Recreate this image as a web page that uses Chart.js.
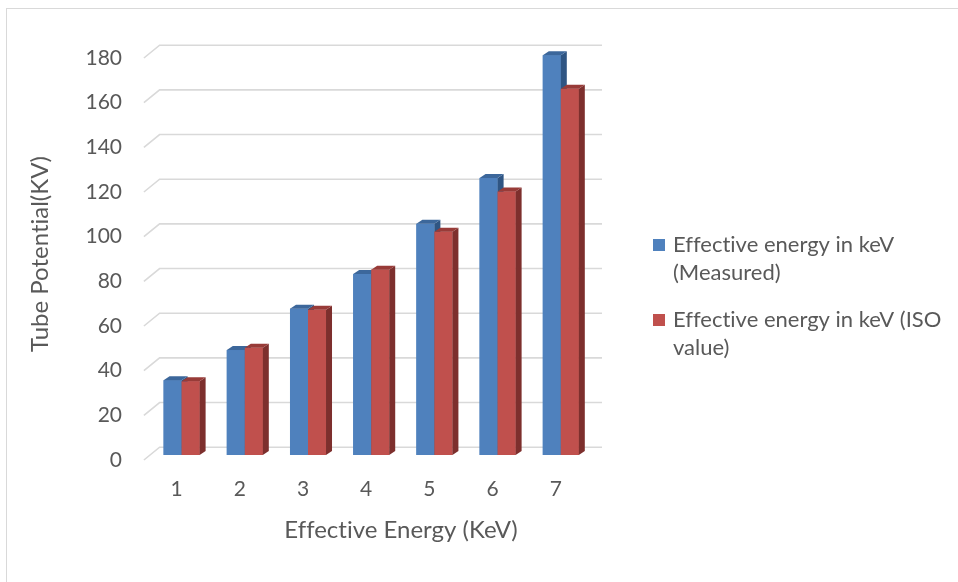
<!DOCTYPE html>
<html>
<head>
<meta charset="utf-8">
<script src="https://cdn.jsdelivr.net/npm/chart.js@4.4.1/dist/chart.umd.min.js"></script>
<style>
  html, body { margin: 0; padding: 0; background: #ffffff; }
  #wrap { position: relative; width: 958px; height: 582px; overflow: hidden; }
  #frame { position: absolute; left: 6px; top: 8px; width: 960px; height: 580px;
           border-top: 1.5px solid #D9D9D9; border-left: 1.5px solid #D9D9D9; }
  #c { position: absolute; left: 0; top: 0; }
</style>
</head>
<body>
<div id="wrap">
  <div id="frame"></div>
  <canvas id="c" width="958" height="582"></canvas>
</div>
<script>
// ---- data ----
const categories = ['1', '2', '3', '4', '5', '6', '7'];
const measuredValues = [33.5, 47, 65.5, 81, 103.5, 124, 179];
const isoValues = [33, 48, 65, 83, 100, 118, 164];
const seriesLabels = ['Effective energy in keV (Measured)', 'Effective energy in keV (ISO value)'];
const yTickValues = [0, 20, 40, 60, 80, 100, 120, 140, 160, 180];
const xAxisTitle = 'Effective Energy (KeV)';
const yAxisTitle = 'Tube Potential(KV)';

// ---- style ----
const FONT = 'Lato, "Open Sans", sans-serif';
const TEXT = '#595959';
const GRID = '#D9D9D9';
const BACK = { dx: 9.6, dy: -7.8 };
const FRONT = { dx: -6.1, dy: 5 };
const DEPTH = { dx: 6, dy: -4 };
const faces = [
  { front: '#4F81BD', top: '#3C679B', side: '#2F5583' },
  { front: '#C0504D', top: '#983B38', side: '#7D2F2D' }
];

function wrapText(ctx, text, maxW) {
  const words = text.split(' ');
  const lines = [];
  let cur = '';
  words.forEach(w => {
    const t = cur ? cur + ' ' + w : w;
    if (cur && ctx.measureText(t).width > maxW) { lines.push(cur); cur = w; }
    else cur = t;
  });
  if (cur) lines.push(cur);
  return lines;
}

const threeD = {
  id: 'threeD',
  beforeDraw(chart) {
    const ctx = chart.ctx;
    try { ctx.textRendering = 'optimizeSpeed'; } catch (e) {}
  },
  beforeDatasetsDraw(chart) {
    const { ctx, chartArea, scales: { y } } = chart;
    ctx.save();
    ctx.strokeStyle = GRID;
    ctx.lineWidth = 1.6;
    y.ticks.forEach(t => {
      const py = y.getPixelForValue(t.value);
      ctx.beginPath();
      ctx.moveTo(chartArea.left + FRONT.dx, py + FRONT.dy);
      ctx.lineTo(chartArea.left + BACK.dx, py + BACK.dy);
      ctx.lineTo(chartArea.right + BACK.dx, py + BACK.dy);
      ctx.stroke();
    });
    ctx.restore();
  },
  afterDatasetsDraw(chart) {
    const { ctx } = chart;
    const metas = chart.data.datasets.map((d, i) => chart.getDatasetMeta(i));
    ctx.save();
    for (let j = 0; j < chart.data.labels.length; j++) {
      metas.forEach((meta, i) => {
        const el = meta.data[j];
        const { x, y, base, width } = el.getProps(['x', 'y', 'base', 'width'], true);
        const l = x - width / 2, r = x + width / 2;
        const c = faces[i];
        ctx.fillStyle = c.front;
        ctx.fillRect(l, y, width, base - y);
        ctx.fillStyle = c.side;
        ctx.beginPath();
        ctx.moveTo(r, y); ctx.lineTo(r + DEPTH.dx, y + DEPTH.dy);
        ctx.lineTo(r + DEPTH.dx, base + DEPTH.dy); ctx.lineTo(r, base);
        ctx.closePath(); ctx.fill();
        ctx.fillStyle = c.top;
        ctx.beginPath();
        ctx.moveTo(l, y); ctx.lineTo(l + DEPTH.dx, y + DEPTH.dy);
        ctx.lineTo(r + DEPTH.dx, y + DEPTH.dy); ctx.lineTo(r, y);
        ctx.closePath(); ctx.fill();
      });
    }
    ctx.restore();
  },
  afterDraw(chart) {
    const { ctx } = chart;
    ctx.save();
    try { ctx.textRendering = 'optimizeSpeed'; } catch (e) {}
    // x axis title
    ctx.fillStyle = TEXT;
    ctx.font = '24px ' + FONT;
    ctx.textAlign = 'center';
    ctx.textBaseline = 'middle';
    ctx.fillText(xAxisTitle, 401, 530);
    // legend
    ctx.font = '22px ' + FONT;
    ctx.textAlign = 'left';
    chart.data.datasets.forEach((ds, i) => {
      const y0 = 245 + i * 75;
      ctx.fillStyle = faces[i].front;
      ctx.fillRect(653, y0 - 6, 12, 12);
      ctx.fillStyle = TEXT;
      wrapText(ctx, ds.label, 280).forEach((line, k) => {
        ctx.fillText(line, 673, y0 + k * 28);
      });
    });
    ctx.restore();
  }
};

new Chart(document.getElementById('c'), {
  type: 'bar',
  data: {
    labels: categories,
    datasets: [
      { label: seriesLabels[0], data: measuredValues, backgroundColor: faces[0].front,
        borderWidth: 0, categoryPercentage: 0.57, barPercentage: 1.0 },
      { label: seriesLabels[1], data: isoValues, backgroundColor: faces[1].front,
        borderWidth: 0, categoryPercentage: 0.57, barPercentage: 1.0 }
    ]
  },
  options: {
    responsive: false,
    animation: false,
    devicePixelRatio: 1,
    layout: { padding: { left: 0, right: 365.6, top: 53, bottom: 0 } },
    plugins: {
      legend: { display: false },
      tooltip: { enabled: false }
    },
    scales: {
      x: {
        grid: { display: false, drawTicks: false },
        border: { display: false },
        ticks: { color: TEXT, font: { family: FONT, size: 21 }, padding: 22, labelOffset: -5 },
        afterFit(scale) { scale.height = 127; }
      },
      y: {
        min: 0, max: 180,
        afterBuildTicks(scale) { scale.ticks = yTickValues.map(v => ({ value: v })); },
        grid: { display: false, drawTicks: false },
        border: { display: false },
        ticks: { color: TEXT, font: { family: FONT, size: 21 }, padding: 28, labelOffset: 5 },
        title: { display: true, text: yAxisTitle, color: TEXT,
                 font: { family: FONT, size: 24 }, padding: { top: 26, bottom: 0 } },
        afterFit(scale) { scale.width = 150; }
      }
    }
  },
  plugins: [threeD]
});
</script>
</body>
</html>
